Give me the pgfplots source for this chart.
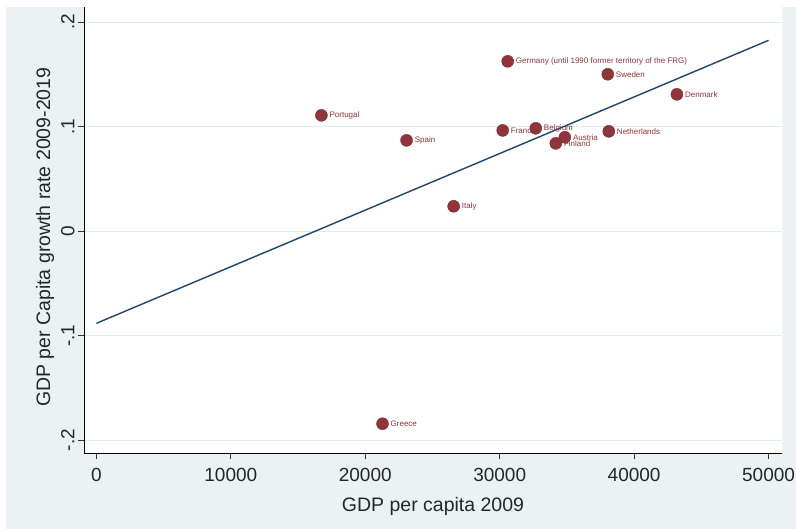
\documentclass[border=0pt]{standalone}
\usepackage{pgfplots}
\pgfplotsset{compat=1.18}
\usepackage{pgfplotstable}
\usepackage{fontspec}
\setmainfont{Liberation Sans}
\definecolor{bg}{HTML}{EAF2F3}
\definecolor{gridc}{HTML}{DFEBEE}
\definecolor{mk}{HTML}{90353B}
\definecolor{ln}{HTML}{1A476F}
\pgfplotstableread{
x y label
30596 0.1624 {Germany (until 1990 former territory of the FRG)}
38040 0.1500 Sweden
43182 0.1308 Denmark
16736 0.1107 Portugal
30224 0.0963 France
32683 0.0983 Belgium
34844 0.0897 Austria
34173 0.0839 Finland
38115 0.0954 Netherlands
23072 0.0868 Spain
26574 0.0237 Italy
21282 -0.1844 Greece
}\data
\begin{document}
\begin{tikzpicture}[x=1pt,y=1pt]
\useasboundingbox (0,0) rectangle (796,529);
\fill[white] (0,0) rectangle (796,529);
\fill[bg] (6,0) rectangle (796,522);
\begin{axis}[
 at={(84pt,76pt)}, anchor=south west,
 scale only axis, width=698pt, height=446pt,
 xmin=-924, xmax=51000, ymin=-0.2124, ymax=0.2144,
 axis x line*=bottom, axis y line*=left,
 axis line style={black, line width=0.9pt, -},
 axis background/.style={fill=white},
 xtick={0,10000,20000,30000,40000,50000},
 scaled x ticks=false,
 xticklabels={0,10000,20000,30000,40000,50000},
 ytick={-0.2,-0.1,0,0.1,0.2},
 yticklabels={-.2,-.1,0,.1,.2},
 tick align=outside, major tick length=6pt,
 tick style={black!80, line width=0.7pt},
 ymajorgrids, grid style={gridc, line width=1pt},
 ticklabel style={font=\fontsize{19}{20}\selectfont, text=black!85},
 yticklabel style={rotate=90, anchor=south},
 xticklabel style={yshift=-6pt},
 xlabel={GDP per capita 2009},
 ylabel={GDP per Capita growth rate 2009-2019},
 label style={font=\fontsize{19.5}{21}\selectfont, text=black!85},
 xlabel style={at={(axis description cs:0.5,0)}, anchor=center, yshift=-53pt},
 ylabel style={at={(axis description cs:-0.0559,0.484)}, anchor=center},
 clip=false,
]
\addplot[only marks, mark=*, mark size=6pt, mark options={fill=mk, draw=mk!80!black, line width=0.4pt},
  nodes near coords, point meta=explicit symbolic,
  every node near coord/.style={anchor=west, xshift=8pt, yshift=0pt, inner sep=0pt, text=mk, font=\fontsize{8}{9}\selectfont}]
  table[x=x, y=y, meta=label] {\data};
\addplot[ln, line width=1.4pt, no marks] coordinates {(0,-0.0883) (50000,0.1825)};
\end{axis}
\end{tikzpicture}
\end{document}
